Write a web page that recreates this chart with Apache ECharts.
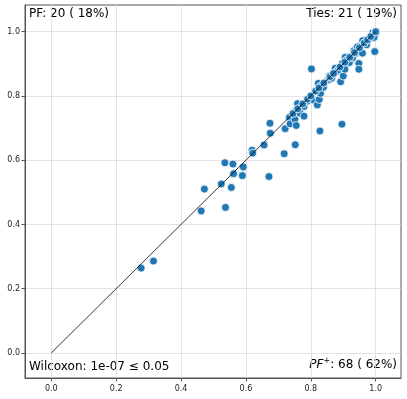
<!DOCTYPE html>
<html>
<head>
<meta charset="utf-8">
<script src="https://cdn.jsdelivr.net/npm/echarts@6/dist/echarts.min.js"></script>
<style>
  html, body { margin: 0; padding: 0; background: #fff; }
  #chart { width: 407px; height: 399px; }
</style>
</head>
<body>
<div id="chart"></div>
<script>
// points: x = baseline score, y = compared score
var xVals = [0.277, 0.315, 0.462, 0.472, 0.524, 0.535, 0.537, 0.555, 0.560, 0.562,
  0.589, 0.592, 0.619, 0.621, 0.656, 0.671, 0.674, 0.675, 0.718, 0.721,
  0.734, 0.736, 0.752, 0.751, 0.755, 0.756, 0.759, 0.767, 0.779, 0.779,
  0.790, 0.798, 0.802, 0.808, 0.820, 0.823, 0.823, 0.826, 0.828, 0.830,
  0.832, 0.839, 0.854, 0.857, 0.864, 0.875, 0.880, 0.885, 0.892, 0.896,
  0.897, 0.900, 0.905, 0.906, 0.911, 0.919, 0.929, 0.933, 0.939, 0.944,
  0.948, 0.948, 0.952, 0.959, 0.960, 0.968, 0.972, 0.980, 0.988, 0.991,
  0.995, 0.997, 0.999, 1.000, 0.995];
var yVals = [0.264, 0.286, 0.442, 0.510, 0.526, 0.592, 0.453, 0.515, 0.588, 0.558,
  0.552, 0.579, 0.631, 0.622, 0.647, 0.549, 0.715, 0.684, 0.620, 0.698,
  0.733, 0.713, 0.648, 0.727, 0.708, 0.756, 0.776, 0.746, 0.737, 0.767,
  0.784, 0.793, 0.884, 0.787, 0.772, 0.819, 0.839, 0.789, 0.691, 0.808,
  0.831, 0.827, 0.850, 0.862, 0.855, 0.886, 0.876, 0.881, 0.844, 0.712,
  0.901, 0.862, 0.883, 0.920, 0.912, 0.904, 0.919, 0.941, 0.933, 0.953,
  0.901, 0.883, 0.939, 0.933, 0.972, 0.966, 0.959, 0.979, 0.990, 0.997,
  0.990, 0.938, 1.000, 0.995, 0.982];
// ties sitting on the diagonal
var tieVals = [0.745, 0.76, 0.775, 0.79, 0.80, 0.815, 0.825, 0.84, 0.86, 0.87,
  0.89, 0.905, 0.92, 0.935, 0.95, 0.965, 0.975, 0.985, 1.0, 1.0, 1.0];
var tickVals = [0, 0.2, 0.4, 0.6, 0.8, 1.0];

var chart = echarts.init(document.getElementById('chart'));

var points = [];
for (var i = 0; i < xVals.length; i++) {
  points.push([xVals[i], yVals[i]]);
}
for (var t of tieVals) {
  points.push([t, t]);
}

var fmt = function (v) { return v.toFixed(1); };

function makeAxis(margin) {
  return {
    type: 'value',
    axisLine: { show: true, onZero: false, lineStyle: { color: '#555', width: 1 } },
    axisTick: { show: true, length: 3.5, customValues: tickVals, lineStyle: { color: '#555' } },
    axisLabel: { customValues: tickVals, formatter: fmt, color: '#222', fontSize: 8,
      fontFamily: 'DejaVu Sans', margin: margin },
    splitLine: { show: true, lineStyle: { color: '#dcdcdc', width: 0.8 } }
  };
}

var xAxis = makeAxis(7);
xAxis.min = -0.081;
xAxis.max = 1.078;
var yAxis = makeAxis(5);
yAxis.min = -0.078;
yAxis.max = 1.083;

var option = {
  animation: false,
  grid: { left: 25, top: 5, width: 376, height: 373, show: true,
    borderColor: '#555', borderWidth: 1 },
  xAxis: xAxis,
  yAxis: yAxis,
  series: [
    {
      type: 'scatter',
      data: points,
      symbolSize: 8,
      itemStyle: { color: '#1f77b4', borderColor: '#fff', borderWidth: 0.8, opacity: 1 }
    },
    {
      type: 'line',
      data: [[0, 0], [1, 1]],
      showSymbol: false,
      lineStyle: { color: '#000', width: 0.8 },
      z: 5
    }
  ],
  graphic: [
    { type: 'text', left: 29, top: 8, style: { text: 'PF: 20 ( 18%)', fontSize: 12,
      fontFamily: 'DejaVu Sans', fill: '#000' } },
    { type: 'text', right: 10, top: 8, style: { text: 'Ties: 21 ( 19%)', fontSize: 12,
      fontFamily: 'DejaVu Sans', fill: '#000' } },
    { type: 'text', left: 29, top: 361, style: { text: 'Wilcoxon: 1e-07 ≤ 0.05', fontSize: 12,
      fontFamily: 'DejaVu Sans', fill: '#000' } },
    { type: 'text', right: 10, top: 357, style: {
      text: '{i|PF}{s|+}{n|: 68 ( 62%)}',
      rich: {
        i: { fontSize: 12, fontStyle: 'italic', fontFamily: 'DejaVu Sans', fill: '#000', verticalAlign: 'bottom' },
        s: { fontSize: 8, fontFamily: 'DejaVu Sans', fill: '#000', verticalAlign: 'top', padding: [0, 0, 6, 0] },
        n: { fontSize: 12, fontFamily: 'DejaVu Sans', fill: '#000', verticalAlign: 'bottom' }
      } } }
  ]
};

chart.setOption(option);
</script>
</body>
</html>
